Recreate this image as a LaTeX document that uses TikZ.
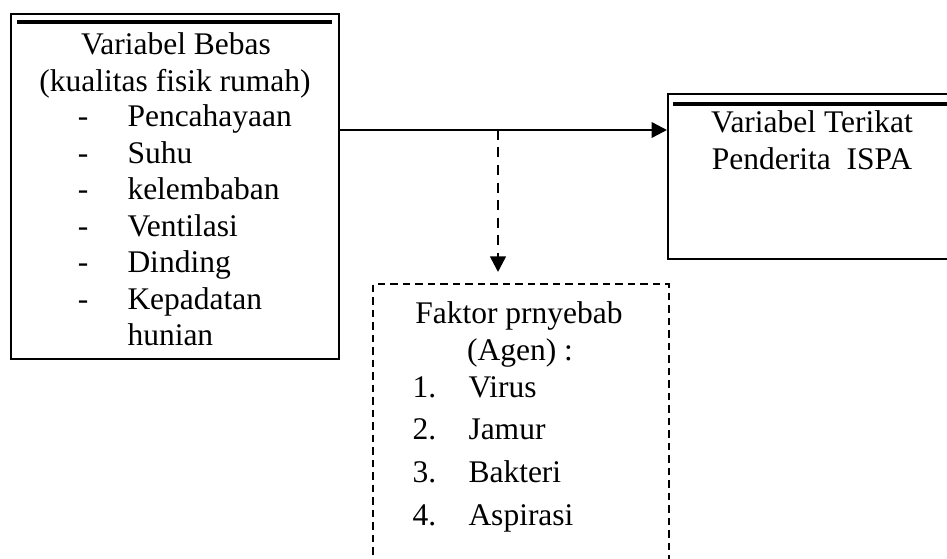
\documentclass[tikz,border=0pt]{standalone}
\usepackage{fontspec}
\setmainfont{Liberation Serif}
\usetikzlibrary{shapes,arrows.meta}
\tikzstyle{box}=[rectangle,draw=black,line width=0.9pt,anchor=north west,inner sep=0pt]
\tikzstyle{dbox}=[box,dash pattern=on 3pt off 2pt]
\tikzstyle{txt}=[font=\fontsize{12.6}{14}\selectfont,inner sep=0pt,anchor=base]
\tikzstyle{item}=[txt,anchor=base west]
\tikzstyle{arr}=[line width=1pt,-{Triangle[length=6.2pt,width=6.2pt]}]

\begin{document}
\begin{tikzpicture}[x=0.4pt,y=-0.4pt]
    \useasboundingbox (0,0) rectangle (947,559);
    % boxes
    \node [style=box,minimum width=131.2pt,minimum height=138pt] (bebas) at (10,13) {};
    \node [style=box,minimum width=118pt,minimum height=66pt] (terikat) at (667,93) {};
    \node [style=dbox,minimum width=118.4pt,minimum height=118pt] (faktor) at (372,283) {};
    \draw [line width=1.4pt] (17,22) -- (332,22);
    \draw [line width=1.4pt] (673,104) -- (962,104);
    % arrows
    \coordinate (split) at (498,130);
    \draw [style=arr] (bebas.east |- split) -- (terikat.west |- split);
    \draw [style=arr,dash pattern=on 4pt off 3pt,shorten >=4.4pt] (split) -- (split |- faktor.north);
    % texts
    \node [style=txt] (bebas1) at (176,55) {Variabel Bebas};
    \node [style=txt] (bebas2) at (175,92) {(kualitas fisik rumah)};
    \foreach \t [count=\i from 0] in {Pencahayaan,Suhu,kelembaban,Ventilasi,Dinding,Kepadatan} {
      \node [style=txt] (dash\i) at (83,{127+36.4*\i}) {-};
      \node [style=item] (var\i) at (127,{127+36.4*\i}) {\t};
    }
    \node [style=item] (var6) at (127,345) {hunian};
    \node [style=txt] (terikat1) at (812,133) {Variabel Terikat};
    \node [style=txt] (terikat2) at (812,170) {Penderita\ \ ISPA};
    \node [style=txt] (faktor1) at (519,323) {Faktor prnyebab};
    \node [style=txt] (faktor2) at (520,360) {(Agen) :};
    \foreach \t [count=\i] in {Virus,Jamur,Bakteri,Aspirasi} {
      \node [style=item] (no\i) at (412,{397+42.7*(\i-1)}) {\i.};
      \node [style=item] (agen\i) at (468,{397+42.7*(\i-1)}) {\t};
    }
\end{tikzpicture}
\end{document}
